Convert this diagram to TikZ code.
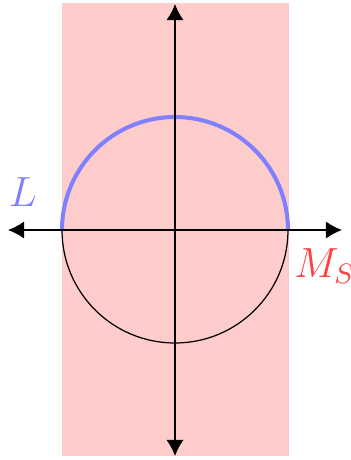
\documentclass[tikz,border=0pt]{standalone}
\usepackage{amsmath, amssymb}
\usetikzlibrary{arrows.meta}
\definecolor{mypink}{RGB}{255,204,204}
\definecolor{myblue}{RGB}{128,128,255}
\definecolor{myred}{RGB}{255,64,64}
\tikzset{
  axis/.style={{Latex[length=0.16cm, width=0.17cm]}-{Latex[length=0.16cm, width=0.17cm]}, line width=0.35pt},
  lbl/.style={inner sep=0pt, font=\large},
}
\begin{document}
\begin{tikzpicture}[x=0.01cm, y=-0.01cm]
      \useasboundingbox (0,0) rectangle (350,460);
      % ── shaded strip ───────────────────────────────────────
      \fill[mypink] (62,3) rectangle (289,456);

      % ── circle: lower half thin, upper half thick ──────────
      \coordinate (o) at (175,230);
      \draw[line width=0.35pt] (62,230) arc[start angle=180, end angle=360, x radius=113, y radius=-113];
      \draw[myblue, line width=1.15pt] (62,230) arc[start angle=180, end angle=0, x radius=113, y radius=-113];

      % ── axes ───────────────────────────────────────────────
      \coordinate (west) at (8,230);
      \coordinate (east) at (342,230);
      \coordinate (north) at (175,4);
      \coordinate (south) at (175,456);
      \draw[axis] (west) -- (east);
      \draw[axis] (north) -- (south);

      % ── labels ─────────────────────────────────────────────
      \node[lbl, myblue] (lab) at (23,192) {$L$};
      \node[lbl, myred] (ms) at (325,266) {$M_S$};
    \end{tikzpicture}
\end{document}
